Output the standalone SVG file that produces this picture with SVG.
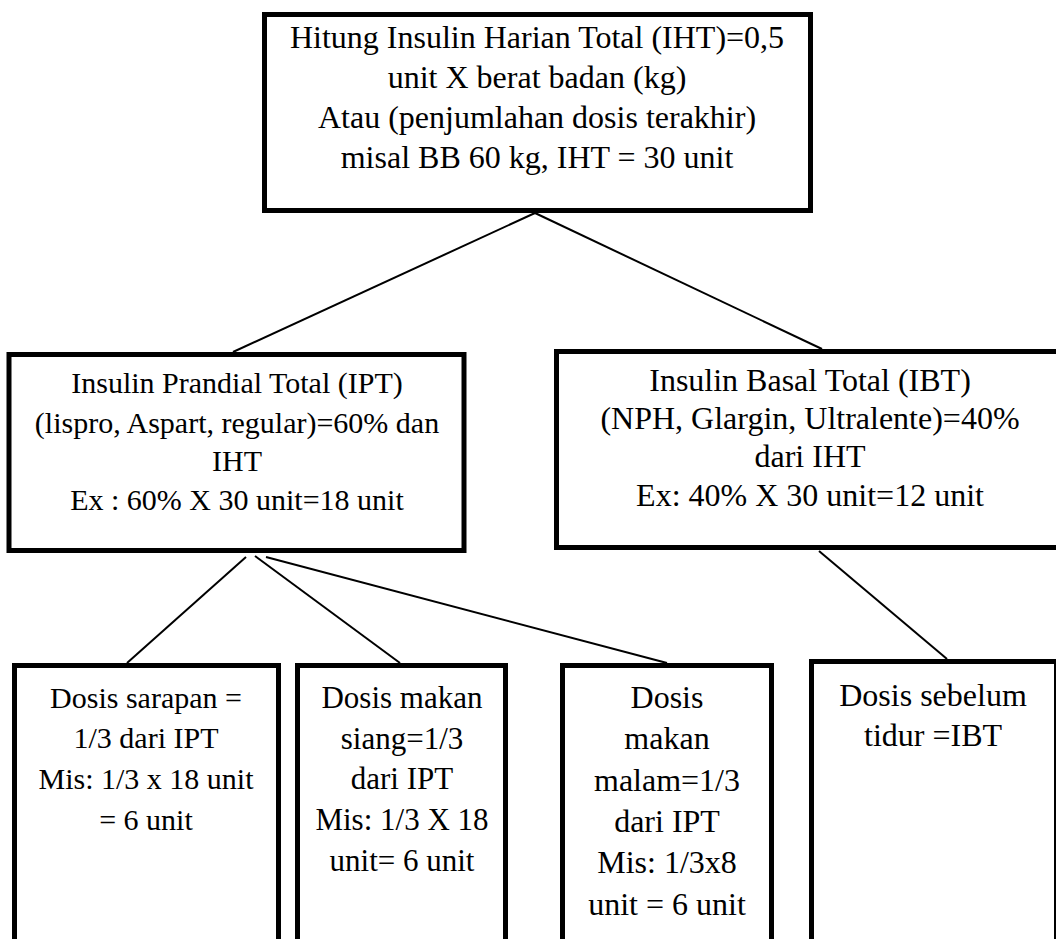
<svg xmlns="http://www.w3.org/2000/svg" width="1056" height="939" viewBox="0 0 1056 939">
<style>
.box{fill:none;stroke:#000;stroke-width:5}
.ln{stroke:#000;stroke-width:2;fill:none}
.t{fill:#000;text-anchor:middle}
.s30{font-size:30px}
.s31{font-size:31px}
.s32{font-size:32px}
</style>
<rect width="1056" height="939" fill="#fff"/>
<g id="connectors">
<line class="ln" x1="535" y1="213" x2="233" y2="352"/>
<line class="ln" x1="535" y1="213" x2="822" y2="349"/>
<line class="ln" x1="246" y1="557" x2="127" y2="663"/>
<line class="ln" x1="255" y1="556" x2="400" y2="663"/>
<line class="ln" x1="266" y1="557" x2="667" y2="663"/>
<line class="ln" x1="819" y1="551" x2="947" y2="659"/>
</g>
<g class="t" font-family="Liberation Serif, DejaVu Serif, serif" font-size="30">
<g id="n-iht" class="s32">
<rect class="box" x="264.5" y="14.5" width="546" height="196"/>
<text x="537" y="48">Hitung Insulin Harian Total (IHT)=0,5</text>
<text x="537" y="88">unit X berat badan (kg)</text>
<text x="537" y="128">Atau (penjumlahan dosis terakhir)</text>
<text x="537" y="168">misal BB 60 kg, IHT = 30 unit</text>
</g>
<g id="n-ipt" class="s30">
<rect class="box" x="9" y="354.5" width="455" height="196"/>
<text x="237" y="393">Insulin Prandial Total (IPT)</text>
<text x="237" y="433">(lispro, Aspart, regular)=60% dan</text>
<text x="237" y="471">IHT</text>
<text x="237" y="510">Ex : 60% X 30 unit=18 unit</text>
</g>
<g id="n-ibt" class="s32">
<rect class="box" x="556.5" y="351.5" width="504" height="196"/>
<text x="810" y="391">Insulin Basal Total (IBT)</text>
<text x="810" y="429">(NPH, Glargin, Ultralente)=40%</text>
<text x="810" y="467">dari IHT</text>
<text x="810" y="506">Ex: 40% X 30 unit=12 unit</text>
</g>
<g id="n-sarapan" class="s30">
<rect class="box" x="14.5" y="665.5" width="264" height="290"/>
<text x="146" y="708">Dosis sarapan =</text>
<text x="146" y="748">1/3 dari IPT</text>
<text x="146" y="789">Mis: 1/3 x 18 unit</text>
<text x="146" y="830">= 6 unit</text>
</g>
<g id="n-siang" class="s31">
<rect class="box" x="297.5" y="665.5" width="208" height="290"/>
<text x="402" y="708">Dosis makan</text>
<text x="402" y="749">siang=1/3</text>
<text x="402" y="789">dari IPT</text>
<text x="402" y="830">Mis: 1/3 X 18</text>
<text x="402" y="871">unit= 6 unit</text>
</g>
<g id="n-malam" class="s32">
<rect class="box" x="562.5" y="665.5" width="209" height="290"/>
<text x="667" y="708">Dosis</text>
<text x="667" y="749">makan</text>
<text x="667" y="791">malam=1/3</text>
<text x="667" y="832">dari IPT</text>
<text x="667" y="873">Mis: 1/3x8</text>
<text x="667" y="915">unit = 6 unit</text>
</g>
<g id="n-tidur" class="s32">
<rect class="box" x="811.5" y="661.5" width="245" height="290"/>
<text x="933" y="706">Dosis sebelum</text>
<text x="933" y="746">tidur =IBT</text>
</g>
</g>
</svg>
